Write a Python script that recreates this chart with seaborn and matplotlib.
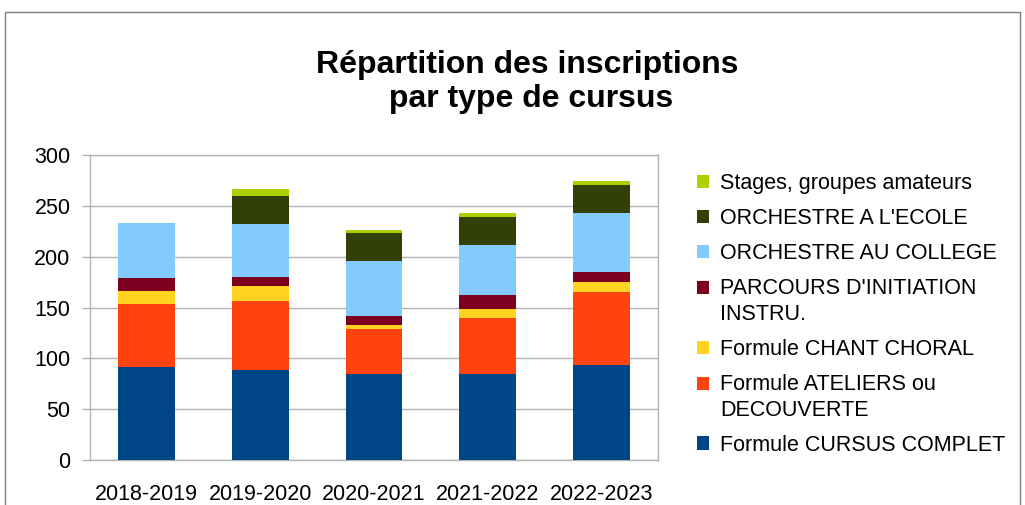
import numpy as np
import pandas as pd
import matplotlib
matplotlib.use("Agg")
import matplotlib.pyplot as plt
import seaborn as sns
from matplotlib.patches import Patch, Rectangle
from matplotlib.legend_handler import HandlerPatch
from matplotlib.ticker import FixedLocator

# -------------------------
# Data
# -------------------------
years = ["2018-2019", "2019-2020", "2020-2021", "2021-2022", "2022-2023"]

cursus_complet = [91, 89, 85, 85, 93]
ateliers = [62, 67, 44, 55, 72]
chant_choral = [13, 15, 4, 9, 10]
parcours = [13, 9, 9, 13, 10]
orch_college = [54, 52, 54, 49, 58]
orch_ecole = [0, 28, 27, 28, 27]
stages = [0, 7, 3, 4, 4]

# bottom -> top
series_names = [
    "Formule CURSUS COMPLET",
    "Formule ATELIERS ou\nDECOUVERTE",
    "Formule CHANT CHORAL",
    "PARCOURS D'INITIATION\nINSTRU.",
    "ORCHESTRE AU COLLEGE",
    "ORCHESTRE A L'ECOLE",
    "Stages, groupes amateurs",
]
series_values = [cursus_complet, ateliers, chant_choral, parcours,
                 orch_college, orch_ecole, stages]
colors = ["#004586", "#ff420e", "#ffd320", "#7e0021",
          "#83caff", "#314004", "#aecf00"]

FS = 15.5
LINESP = 1.3

# -------------------------
# Plot
# -------------------------
sns.set_style("white")
plt.rcParams["font.family"] = ["Liberation Sans", "DejaVu Sans"]
plt.rcParams["text.color"] = "black"
plt.rcParams["xtick.color"] = "black"
plt.rcParams["ytick.color"] = "black"

fig = plt.figure(figsize=(10.25, 5.05), dpi=100)
ax = fig.add_axes([90 / 1025, 1 - 460 / 505, (658 - 90) / 1025, 305 / 505])

# stacked bars: draw cumulative totals from the top down
cum = np.cumsum(np.array(series_values), axis=0)
for i in range(len(series_names) - 1, -1, -1):
    df = pd.DataFrame({"year": years, "value": cum[i]})
    sns.barplot(data=df, x="year", y="value", color=colors[i], saturation=1,
                width=0.5, linewidth=0, ax=ax, zorder=3)

ax.set_ylim(0, 300)
ax.set_xlim(-0.5, 4.5)
ax.set_yticks(range(0, 301, 50))
ax.set_xlabel("")
ax.set_ylabel("")
ax.yaxis.grid(True, color="#b3b3b3", linewidth=1, zorder=0)
ax.set_axisbelow(True)
for s in ax.spines.values():
    s.set_color("#b3b3b3")
    s.set_linewidth(1)

ax.xaxis.set_minor_locator(FixedLocator(np.arange(-0.5, 5, 1)))
ax.tick_params(axis="x", which="major", length=0, pad=17, labelsize=FS,
               labelcolor="black")
ax.tick_params(axis="x", which="minor", length=6.5, color="#b3b3b3", width=1)
ax.tick_params(axis="y", length=6, color="#b3b3b3", width=1, pad=8,
               labelsize=FS, labelcolor="black", left=True)


# legend square sits on the first line of a wrapped label
class TopHandler(HandlerPatch):
    def create_artists(self, legend, orig_handle, xdescent, ydescent,
                       width, height, fontsize, trans):
        nlines = orig_handle.get_label().count("\n") + 1
        shift = (nlines - 1) * 0.5 * LINESP * fontsize
        p = Rectangle((-xdescent, -ydescent + shift), width, height,
                      facecolor=orig_handle.get_facecolor(), edgecolor="none",
                      transform=trans)
        return [p]


handles = [Patch(facecolor=colors[i], edgecolor="none", label=series_names[i])
           for i in range(len(series_names) - 1, -1, -1)]
leg = fig.legend(handles=handles, loc="upper left",
                 bbox_to_anchor=(697 / 1025, 1 - 173 / 505),
                 frameon=False, fontsize=FS, labelspacing=0.65,
                 handlelength=0.56, handleheight=0.56, handletextpad=0.5,
                 borderaxespad=0, borderpad=0,
                 handler_map={Patch: TopHandler()})
for t in leg.get_texts():
    t.set_linespacing(LINESP)
    t.set_color("black")

fig.text(0.514, 1 - 82 / 505, "Répartition des inscriptions\n par type de cursus",
         ha="center", va="center", fontsize=23, fontweight="bold",
         multialignment="center", linespacing=1.2, color="black")

# outer chart frame
fig.patches.append(Rectangle((5 / 1025, -0.1), 1015 / 1025, 1.1 - 12 / 505,
                             transform=fig.transFigure, fill=False,
                             edgecolor="#7f7f7f", linewidth=1))

fig.savefig("out.png", dpi=100)
